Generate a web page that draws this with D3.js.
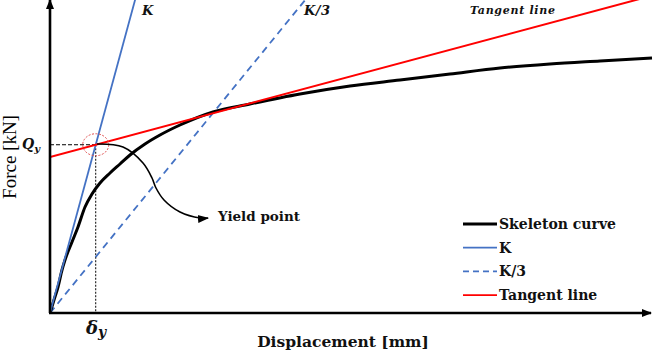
<!DOCTYPE html>
<html>
<head>
<meta charset="utf-8">
<script src="https://cdn.jsdelivr.net/npm/d3@7"></script>
<style>
  body { margin: 0; background: #fff; }
  svg { display: block; }
  .lbl { font-family: "DejaVu Serif", serif; font-weight: bold; fill: #111; }
  .math { font-family: "DejaVu Serif", serif; font-weight: bold; font-style: italic; fill: #111; }
</style>
</head>
<body>
<svg id="chart" width="653" height="362"></svg>
<script>
// skeleton curve (mm, kN)
const disp = [0, 0.4, 0.8, 1.2, 1.5, 2.2, 2.8, 3.5, 4.2, 5.0, 6.0, 7.0, 8.0, 9.5, 11, 13, 16.3, 20, 25, 30, 35, 40, 45, 50, 55, 60.2];
const force = [0, 1.3, 2.6, 4.3, 5.3, 7.1, 8.6, 10.6, 11.9, 13.0, 14.0, 14.9, 15.8, 16.9, 17.8, 18.8, 20.1, 20.9, 21.9, 22.7, 23.3, 23.9, 24.5, 24.9, 25.2, 25.5];

// initial stiffness and tangent line
const K = 3.68;
const tangentIntercept = 15.6;
const tangentSlope = 0.268;

// callout arrow from the yield point to its label
const arrowX = [4.7, 7.3, 9.3, 10.2, 10.6, 11.4, 13, 15, 15.8];
const arrowY = [16.9, 16.6, 15.0, 13.5, 12.5, 11.3, 10.1, 9.5, 9.5];

const legendNames = ["Skeleton curve", "K", "K/3", "Tangent line"];

const svg = d3.select("#chart");

const x = d3.scaleLinear().domain([0, 60]).range([50, 650]);
const y = d3.scaleLinear().domain([0, 31.3]).range([313, 0]);
const xMax = 60;

const blue = "#4472C4", red = "#FF0000";

// clip to plot area
const defs = svg.append("defs");
defs.append("clipPath").attr("id", "plot")
  .append("rect").attr("x", x(0)).attr("y", 0).attr("width", 603).attr("height", y(0));

defs.append("marker").attr("id", "axisHead")
  .attr("viewBox", "0 0 10 10").attr("refX", 9).attr("refY", 5)
  .attr("markerWidth", 4).attr("markerHeight", 4).attr("orient", "auto")
  .attr("markerUnits", "strokeWidth")
  .append("path").attr("d", "M0,1 L10,5 L0,9 Z").attr("fill", "#000");
defs.append("marker").attr("id", "callHead")
  .attr("viewBox", "0 0 10 10").attr("refX", 9).attr("refY", 5)
  .attr("markerWidth", 7).attr("markerHeight", 7).attr("orient", "auto")
  .attr("markerUnits", "strokeWidth")
  .append("path").attr("d", "M0,1.5 L10,5 L0,8.5 Z").attr("fill", "#000");

const plot = svg.append("g").attr("clip-path", "url(#plot)");

// yield point = K line meets tangent line
const dy = tangentIntercept / (K - tangentSlope);
const Qy = K * dy;

// guide lines to the axes
plot.append("line")
  .attr("x1", x(0)).attr("x2", x(dy)).attr("y1", y(Qy)).attr("y2", y(Qy))
  .attr("stroke", "#000").attr("stroke-width", 1).attr("stroke-dasharray", "4,2");
plot.append("line")
  .attr("x1", x(dy)).attr("x2", x(dy)).attr("y1", y(Qy)).attr("y2", y(0))
  .attr("stroke", "#000").attr("stroke-width", 1).attr("stroke-dasharray", "2,1.5");

// straight lines
const lineFor = (slope, b) => [[0, b], [xMax, b + slope * xMax]];
const straight = d3.line().x(d => x(d[0])).y(d => y(d[1]));

plot.append("path").attr("d", straight(lineFor(K / 3, 0)))
  .attr("fill", "none").attr("stroke", blue).attr("stroke-width", 1.8)
  .attr("stroke-dasharray", "7,5");

const skel = disp.map((d, i) => [d, force[i]]);
plot.append("path").datum(skel)
  .attr("d", d3.line().x(d => x(d[0])).y(d => y(d[1])).curve(d3.curveMonotoneX))
  .attr("fill", "none").attr("stroke", "#000").attr("stroke-width", 3)
  .attr("stroke-linejoin", "round");

plot.append("path").attr("d", straight(lineFor(K, 0)))
  .attr("fill", "none").attr("stroke", blue).attr("stroke-width", 1.8);

plot.append("path").attr("d", straight(lineFor(tangentSlope, tangentIntercept)))
  .attr("fill", "none").attr("stroke", red).attr("stroke-width", 2);

// dotted circle at yield point
svg.append("ellipse").attr("cx", x(dy)).attr("cy", y(Qy)).attr("rx", 13).attr("ry", 11)
  .attr("fill", "none").attr("stroke", "#e05050").attr("stroke-width", 1)
  .attr("stroke-dasharray", "2,1.5");

// callout arrow
const arrowPts = arrowX.map((d, i) => [d, arrowY[i]]);
svg.append("path").datum(arrowPts)
  .attr("d", d3.line().x(d => x(d[0])).y(d => y(d[1])).curve(d3.curveCatmullRom))
  .attr("fill", "none").attr("stroke", "#000").attr("stroke-width", 1.6)
  .attr("marker-end", "url(#callHead)");
svg.append("text").attr("class", "lbl").attr("x", 218).attr("y", 221)
  .attr("font-size", 13.5).text("Yield point");

// axes with arrowheads
svg.append("line").attr("x1", x(0)).attr("y1", y(0)).attr("x2", x(0)).attr("y2", 0)
  .attr("stroke", "#000").attr("stroke-width", 2.6).attr("marker-end", "url(#axisHead)");
svg.append("line").attr("x1", x(0) - 1).attr("y1", y(0)).attr("x2", 651).attr("y2", y(0))
  .attr("stroke", "#000").attr("stroke-width", 2.6).attr("marker-end", "url(#axisHead)");

// axis titles
svg.append("text").attr("class", "lbl").attr("x", 343).attr("y", 347)
  .attr("text-anchor", "middle").attr("font-size", 15.5).text("Displacement [mm]");
svg.append("text")
  .attr("transform", "translate(16,157) rotate(-90)")
  .attr("text-anchor", "middle")
  .style("font-family", "'Liberation Serif', serif").style("font-size", "19px")
  .text("Force [kN]");

// Q_y and delta_y
const q = svg.append("text").attr("class", "math").attr("x", 22).attr("y", 149).attr("font-size", 14);
q.append("tspan").text("Q");
q.append("tspan").attr("font-size", 10).attr("dy", 3).text("y");
const dl = svg.append("text").attr("class", "math").attr("x", 86).attr("y", 334).attr("font-size", 18);
dl.append("tspan").text("δ");
dl.append("tspan").attr("font-size", 14).attr("dy", 3).text("y");

// line labels at the top
svg.append("text").attr("class", "math").attr("x", 142).attr("y", 15).attr("font-size", 13).text("K");
svg.append("text").attr("class", "math").attr("x", 304).attr("y", 15).attr("font-size", 13)
  .attr("letter-spacing", 0.5).text("K/3");
svg.append("text").attr("class", "math").attr("x", 470).attr("y", 14).attr("font-size", 11)
  .attr("letter-spacing", 0.7).text("Tangent line");

// legend
const legendStyle = [
  { stroke: "#000", w: 3, dash: null },
  { stroke: blue, w: 1.8, dash: null },
  { stroke: blue, w: 1.8, dash: "6,4" },
  { stroke: red, w: 1.8, dash: null }
];
const legend = svg.append("g").attr("transform", "translate(463,224)");
legendNames.forEach((name, i) => {
  const row = legend.append("g").attr("transform", `translate(0,${i * 23.7})`);
  row.append("line").attr("x1", 0).attr("x2", 34).attr("y1", 0).attr("y2", 0)
    .attr("stroke", legendStyle[i].stroke).attr("stroke-width", legendStyle[i].w)
    .attr("stroke-dasharray", legendStyle[i].dash);
  row.append("text").attr("class", "lbl").attr("x", 36).attr("y", 5)
    .attr("font-size", 14).text(name);
});
</script>
</body>
</html>
